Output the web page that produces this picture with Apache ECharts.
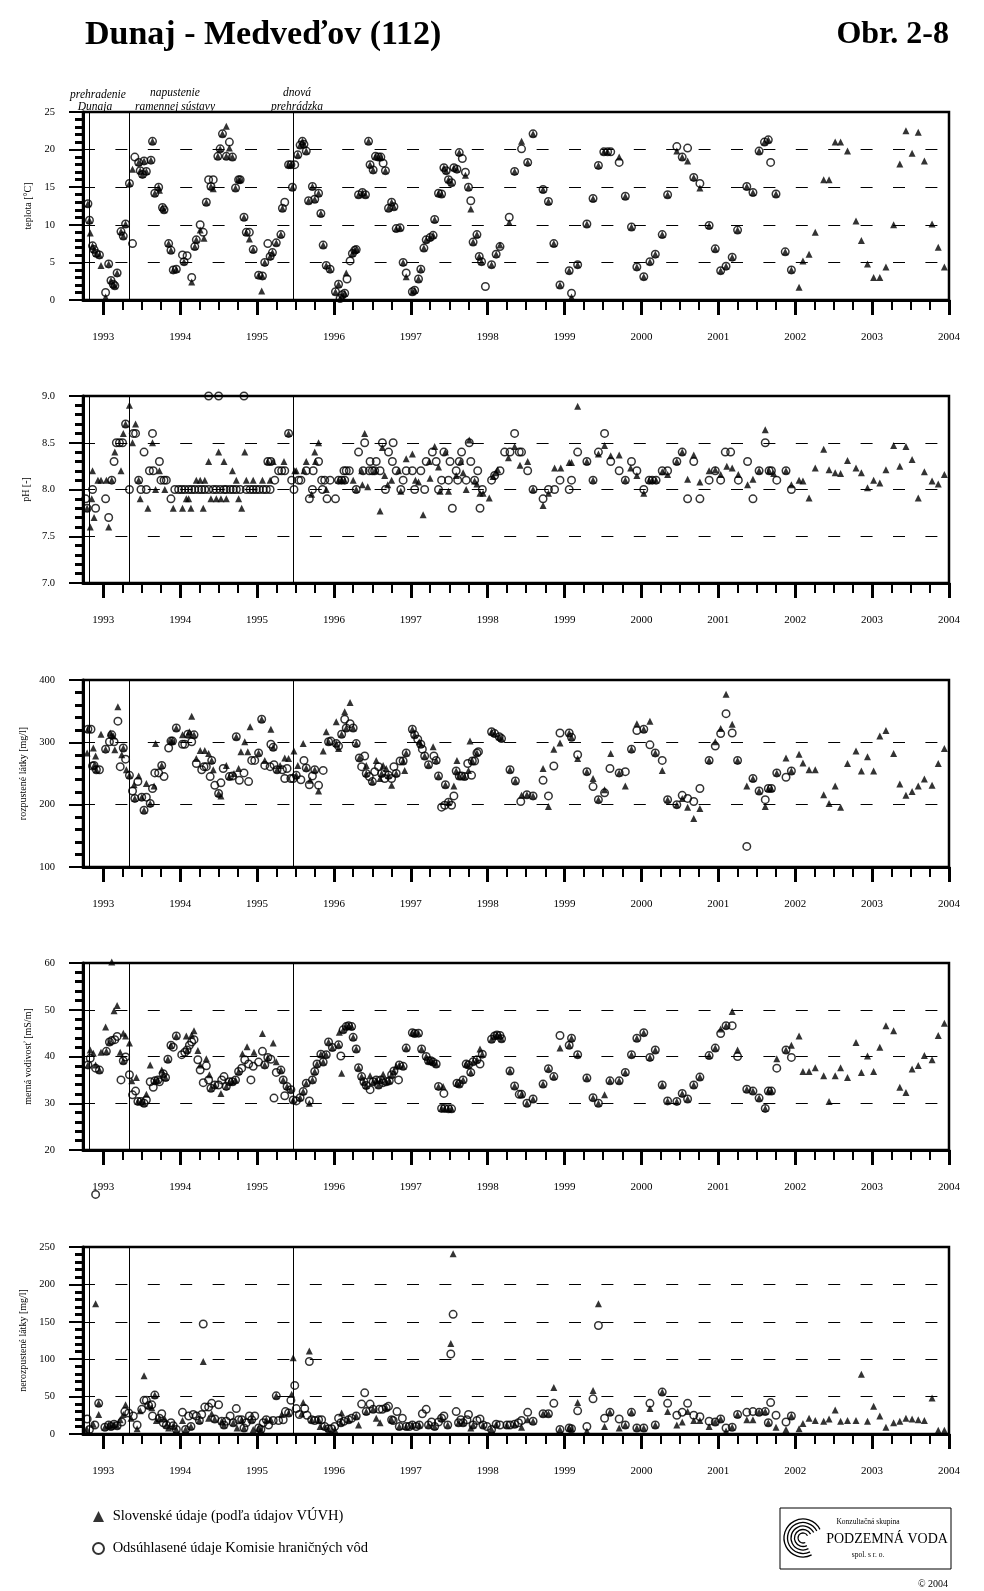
<!DOCTYPE html>
<html><head><meta charset="utf-8">
<script src="https://cdn.jsdelivr.net/npm/echarts@6/dist/echarts.min.js"></script>
<style>html,body{margin:0;padding:0;background:#fff}#c{width:984px;height:1591px}</style>
</head><body><div id="c"></div>
<script>
const FONT = '"Liberation Serif", "Times New Roman", serif';
const SK_NAME = 'Slovenské údaje (podľa údajov VÚVH)';
const KHV_NAME = 'Odsúhlasené údaje Komisie hraničných vôd';
const TITLE = 'Dunaj - Medveďov (112)';
const FIG = 'Obr. 2-8';

const yearTicks = [1993,1994,1995,1996,1997,1998,1999,2000,2001,2002,2003,2004];
const eventDates = [1992.818, 1993.338, 1995.47];

// Slovak-only monthly samples 2002-2003 (shared dates)
const lateDates = [2002.05,2002.10,2002.18,2002.26,2002.37,2002.44,2002.52,2002.59,2002.68,2002.79,2002.86,2002.94,2003.02,2003.10,2003.18,2003.28,2003.36,2003.44,2003.52,2003.60,2003.68,2003.78,2003.86,2003.94];

// ---------- teplota [°C] ----------
const tempBoth = [[1992.80,12.8],[1992.82,10.6],[1992.86,7.2],[1992.88,6.7],[1992.91,6.2],[1992.95,6.0],[1993.07,4.8],[1993.10,2.6],[1993.13,2.1],[1993.15,1.9],[1993.18,3.6],[1993.23,9.1],[1993.26,8.5],[1993.29,10.1],[1993.34,15.5],[1993.46,18.3],[1993.48,17.2],[1993.51,16.7],[1993.53,18.5],[1993.56,17.1],[1993.62,18.6],[1993.64,21.1],[1993.67,14.2],[1993.72,15.0],[1993.77,12.3],[1993.79,12.0],[1993.85,7.5],[1993.88,6.6],[1993.91,4.0],[1993.95,4.1],[1994.05,5.1],[1994.19,7.1],[1994.21,8.0],[1994.34,13.0],[1994.40,15.1],[1994.49,19.1],[1994.52,20.1],[1994.55,22.1],[1994.60,19.1],[1994.68,19.0],[1994.72,14.9],[1994.76,16.0],[1994.78,16.0],[1994.83,11.0],[1994.86,9.0],[1994.95,6.7],[1995.02,3.3],[1995.07,3.2],[1995.10,5.0],[1995.17,5.8],[1995.20,6.3],[1995.25,7.6],[1995.31,8.7],[1995.33,12.2],[1995.41,18.0],[1995.44,18.0],[1995.46,15.0],[1995.53,19.3],[1995.56,20.6],[1995.59,21.1],[1995.61,20.7],[1995.64,19.8],[1995.67,13.2],[1995.72,15.1],[1995.75,13.4],[1995.80,14.2],[1995.83,11.5],[1995.86,7.3],[1995.90,4.6],[1995.95,4.1],[1996.02,1.1],[1996.06,2.1],[1996.08,0.2],[1996.11,0.7],[1996.14,0.9],[1996.24,6.2],[1996.27,6.6],[1996.29,6.7],[1996.32,14.0],[1996.37,14.3],[1996.41,14.0],[1996.45,21.1],[1996.47,18.0],[1996.51,17.3],[1996.54,19.1],[1996.58,19.0],[1996.61,19.0],[1996.67,17.2],[1996.71,12.2],[1996.75,13.0],[1996.78,12.4],[1996.81,9.5],[1996.86,9.6],[1996.90,5.0],[1997.02,1.1],[1997.05,1.3],[1997.10,2.8],[1997.13,4.1],[1997.17,6.9],[1997.20,8.0],[1997.25,8.3],[1997.29,8.6],[1997.31,10.7],[1997.36,14.2],[1997.40,14.1],[1997.43,17.6],[1997.46,17.2],[1997.49,16.0],[1997.53,15.6],[1997.56,17.6],[1997.60,17.4],[1997.63,19.6],[1997.75,15.0],[1997.81,7.7],[1997.86,8.7],[1997.89,5.8],[1997.92,5.1],[1998.05,4.7],[1998.11,6.1],[1998.35,17.1],[1998.52,18.3],[1998.59,22.1],[1998.72,14.7],[1998.79,13.1],[1998.86,7.5],[1998.94,2.0],[1999.06,3.9],[1999.17,4.7],[1999.29,10.1],[1999.37,13.5],[1999.44,17.9],[1999.51,19.7],[1999.56,19.7],[1999.79,13.8],[1999.87,9.7],[1999.94,4.4],[2000.03,3.1],[2000.11,5.1],[2000.18,6.1],[2000.27,8.7],[2000.34,14.0],[2000.53,19.0],[2000.68,16.3],[2000.88,9.9],[2000.96,6.8],[2001.03,3.9],[2001.10,4.5],[2001.18,5.7],[2001.25,9.3],[2001.37,15.1],[2001.45,14.3],[2001.53,19.8],[2001.60,21.0],[2001.65,21.3],[2001.75,14.1],[2001.87,6.4],[2001.95,4.0]];
const tempSK = [[1992.83,8.9],[1992.97,4.6],[1993.03,0.4],[1993.38,17.4],[1993.73,14.6],[1994.15,2.4],[1994.26,9.3],[1994.31,8.2],[1994.43,14.8],[1994.60,23.1],[1994.64,20.2],[1994.90,8.1],[1995.06,1.2],[1996.16,3.6],[1996.94,3.1],[1997.71,16.6],[1997.78,12.1],[1998.16,7.3],[1998.28,10.3],[1998.44,21.1],[1999.09,0.4],[1999.71,19.0],[2000.46,19.8],[2000.60,18.5],[2000.76,14.9]];
const tempKHV = [[1993.03,1.0],[1993.38,7.5],[1993.41,19.0],[1994.03,6.0],[1994.09,5.9],[1994.15,3.0],[1994.26,10.0],[1994.30,9.0],[1994.37,16.0],[1994.43,16.0],[1994.64,21.0],[1994.90,9.0],[1995.14,7.5],[1995.36,13.0],[1995.49,18.0],[1996.17,2.8],[1996.21,5.2],[1996.64,18.2],[1996.94,3.6],[1997.67,18.8],[1997.71,17.0],[1997.78,13.2],[1997.97,1.8],[1998.16,7.1],[1998.28,11.0],[1998.44,20.1],[1999.09,0.9],[1999.60,19.7],[1999.71,18.3],[2000.46,20.4],[2000.60,20.2],[2000.76,15.5],[2001.68,18.3]];
const tempLate = [1.7,5.2,6.1,9.0,16.0,16.0,21.0,21.0,19.8,10.5,7.9,4.8,3.0,3.0,4.4,10.0,18.1,22.5,19.5,22.3,18.5,10.1,7.0,4.4];

// ---------- pH [-] ----------
const phBoth = [];
const phKHV = [[1992.77,7.9],[1992.79,7.8],[1992.86,8.0],[1992.90,7.8],[1993.03,7.9],[1993.07,7.7],[1993.11,8.1],[1993.14,8.3],[1993.17,8.5],[1993.21,8.5],[1993.25,8.5],[1993.29,8.7],[1993.34,8.0],[1993.39,8.6],[1993.42,8.6],[1993.46,8.1],[1993.49,8.0],[1993.53,8.4],[1993.56,8.0],[1993.60,8.2],[1993.64,8.6],[1993.65,8.2],[1993.73,8.3],[1993.75,8.1],[1993.79,8.1],[1993.82,8.1],[1993.88,7.9],[1993.93,8.0],[1993.98,8.0],[1994.02,8.0],[1994.06,8.0],[1994.11,8.0],[1994.15,8.0],[1994.19,8.0],[1994.24,8.0],[1994.28,8.0],[1994.32,8.0],[1994.37,8.0],[1994.37,9.0],[1994.50,9.0],[1994.83,9.0],[1994.43,8.0],[1994.47,8.0],[1994.52,8.0],[1994.57,8.0],[1994.60,8.0],[1994.65,8.0],[1994.69,8.0],[1994.73,8.0],[1994.78,8.0],[1994.86,8.0],[1994.91,8.0],[1994.95,8.0],[1994.99,8.0],[1995.03,8.0],[1995.08,8.0],[1995.12,8.0],[1995.17,8.0],[1995.14,8.3],[1995.18,8.3],[1995.23,8.1],[1995.28,8.2],[1995.32,8.2],[1995.36,8.2],[1995.41,8.6],[1995.45,8.1],[1995.48,8.0],[1995.54,8.1],[1995.57,8.1],[1995.64,8.2],[1995.68,7.9],[1995.72,8.0],[1995.73,8.2],[1995.80,8.3],[1995.84,8.1],[1995.85,8.0],[1995.88,8.1],[1995.91,7.9],[1995.95,8.1],[1996.02,7.9],[1996.06,8.1],[1996.10,8.1],[1996.14,8.1],[1996.13,8.2],[1996.16,8.2],[1996.20,8.2],[1996.29,8.0],[1996.32,8.4],[1996.38,8.2],[1996.40,8.5],[1996.46,8.2],[1996.47,8.3],[1996.50,8.2],[1996.53,8.2],[1996.55,8.3],[1996.60,8.2],[1996.63,8.5],[1996.67,8.0],[1996.71,8.4],[1996.76,8.3],[1996.77,8.5],[1996.81,8.2],[1996.87,8.0],[1996.90,8.1],[1996.94,8.2],[1997.02,8.2],[1997.05,8.0],[1997.13,8.2],[1997.18,8.0],[1997.20,8.3],[1997.28,8.4],[1997.33,8.3],[1997.36,8.0],[1997.40,8.1],[1997.43,8.4],[1997.49,8.1],[1997.51,8.3],[1997.54,7.8],[1997.59,8.2],[1997.61,8.1],[1997.63,8.3],[1997.66,8.4],[1997.72,8.1],[1997.76,8.5],[1997.78,8.3],[1997.83,8.1],[1997.87,8.2],[1997.90,7.8],[1997.93,8.0],[1998.05,8.1],[1998.09,8.15],[1998.16,8.2],[1998.22,8.4],[1998.29,8.4],[1998.35,8.6],[1998.41,8.4],[1998.44,8.4],[1998.52,8.2],[1998.59,8.0],[1998.72,7.9],[1998.79,8.0],[1998.87,8.0],[1998.94,8.1],[1999.06,8.0],[1999.09,8.1],[1999.17,8.4],[1999.29,8.3],[1999.37,8.1],[1999.44,8.4],[1999.52,8.6],[1999.60,8.3],[1999.71,8.2],[1999.79,8.1],[1999.87,8.3],[1999.94,8.2],[2000.03,8.0],[2000.10,8.1],[2000.14,8.1],[2000.19,8.1],[2000.27,8.2],[2000.34,8.2],[2000.46,8.3],[2000.53,8.4],[2000.60,7.9],[2000.68,8.3],[2000.76,7.9],[2000.88,8.1],[2000.96,8.2],[2001.03,8.1],[2001.09,8.4],[2001.16,8.4],[2001.26,8.1],[2001.38,8.3],[2001.45,7.9],[2001.53,8.2],[2001.61,8.5],[2001.66,8.2],[2001.69,8.2],[2001.76,8.1],[2001.88,8.2],[2001.95,8.0]];
const phSK = [[1992.79,7.8],[1992.83,7.6],[1992.85,7.9],[1992.86,8.2],[1992.88,7.7],[1992.93,8.1],[1992.97,8.1],[1993.04,8.1],[1993.07,7.6],[1993.11,8.1],[1993.15,8.4],[1993.23,8.2],[1993.26,8.6],[1993.29,8.7],[1993.34,8.9],[1993.38,8.5],[1993.42,8.7],[1993.46,8.1],[1993.48,7.9],[1993.58,7.8],[1993.64,8.5],[1993.68,8.0],[1993.73,8.2],[1993.80,8.0],[1993.91,7.8],[1994.03,7.8],[1994.08,7.9],[1994.11,7.9],[1994.14,7.8],[1994.21,8.1],[1994.26,8.1],[1994.30,7.8],[1994.32,8.1],[1994.37,8.3],[1994.40,7.9],[1994.47,7.9],[1994.50,8.4],[1994.53,7.9],[1994.57,8.3],[1994.60,7.9],[1994.68,8.2],[1994.73,8.1],[1994.76,7.9],[1994.80,7.8],[1994.84,8.4],[1994.86,8.1],[1994.95,8.1],[1995.07,8.1],[1995.14,8.3],[1995.17,8.1],[1995.21,8.3],[1995.35,8.3],[1995.41,8.6],[1995.49,8.2],[1995.51,8.2],[1995.61,8.2],[1995.64,8.3],[1995.71,7.95],[1995.75,8.4],[1995.76,8.3],[1995.80,8.5],[1995.90,8.0],[1996.06,8.1],[1996.10,8.1],[1996.14,8.1],[1996.25,8.1],[1996.29,8.0],[1996.36,8.2],[1996.37,8.05],[1996.40,8.6],[1996.44,8.03],[1996.54,8.2],[1996.60,7.77],[1996.63,8.45],[1996.66,8.15],[1996.70,8.05],[1996.75,8.1],[1996.84,8.2],[1996.87,7.98],[1996.94,8.33],[1997.02,8.38],[1997.06,8.1],[1997.10,8.08],[1997.16,7.73],[1997.24,8.3],[1997.25,8.12],[1997.31,8.46],[1997.36,8.24],[1997.38,7.98],[1997.45,8.4],[1997.49,7.98],[1997.59,8.15],[1997.65,8.3],[1997.68,8.18],[1997.72,8.0],[1997.76,8.53],[1997.83,8.09],[1997.86,8.06],[1997.90,7.96],[1997.94,7.96],[1998.02,7.91],[1998.07,8.14],[1998.10,8.18],[1998.13,8.21],[1998.27,8.34],[1998.35,8.46],[1998.42,8.26],[1998.52,8.3],[1998.59,8.0],[1998.72,7.83],[1998.79,7.96],[1998.87,8.23],[1998.95,8.23],[1999.06,8.29],[1999.09,8.29],[1999.17,8.89],[1999.29,8.3],[1999.37,8.1],[1999.44,8.38],[1999.52,8.47],[1999.60,8.36],[1999.71,8.37],[1999.79,8.1],[1999.86,8.23],[1999.94,8.15],[2000.03,7.96],[2000.10,8.1],[2000.14,8.1],[2000.19,8.1],[2000.27,8.19],[2000.34,8.16],[2000.46,8.3],[2000.53,8.4],[2000.60,8.11],[2000.68,8.37],[2000.76,8.08],[2000.88,8.2],[2000.96,8.21],[2001.03,8.16],[2001.11,8.25],[2001.18,8.23],[2001.26,8.16],[2001.38,8.05],[2001.45,8.11],[2001.53,8.2],[2001.61,8.64],[2001.66,8.2],[2001.72,8.17],[2001.88,8.2],[2001.95,8.05]];
const phLate = [8.1,8.09,7.91,8.23,8.43,8.21,8.18,8.17,8.31,8.23,8.18,8.02,8.1,8.07,8.21,8.47,8.25,8.46,8.32,7.91,8.19,8.09,8.06,8.16];

// ---------- rozpustené látky [mg/l] ----------
const tdsBoth = [[1992.80,321],[1992.88,263],[1992.91,256],[1993.03,289],[1993.11,312],[1993.26,291],[1993.34,247],[1993.41,210],[1993.50,212],[1993.53,191],[1993.61,202],[1993.76,263],[1993.88,302],[1993.90,302],[1993.95,323],[1994.10,313],[1994.18,312],[1994.41,271],[1994.50,218],[1994.64,245],[1994.73,309],[1995.02,283],[1995.06,337],[1995.21,292],[1995.26,256],[1995.51,247],[1995.64,259],[1995.75,256],[1995.93,301],[1996.03,298],[1996.10,313],[1996.16,323],[1996.25,323],[1996.29,298],[1996.33,275],[1996.42,250],[1996.50,237],[1996.62,250],[1996.71,247],[1996.81,250],[1996.90,270],[1996.94,283],[1997.02,321],[1997.05,312],[1997.13,297],[1997.18,278],[1997.23,264],[1997.33,271],[1997.36,246],[1997.45,232],[1997.49,204],[1997.59,254],[1997.63,246],[1997.70,245],[1997.80,270],[1997.86,283],[1998.05,317],[1998.09,314],[1998.15,309],[1998.18,306],[1998.29,256],[1998.36,238],[1998.51,216],[1998.59,214],[1999.06,315],[1999.09,308],[1999.29,253],[1999.44,208],[1999.71,251],[1999.87,289],[2000.03,321],[2000.18,283],[2000.34,208],[2000.46,200],[2000.88,271],[2001.25,271],[2001.45,242],[2001.53,222],[2001.65,226],[2001.69,226],[2001.76,251],[2001.95,254]];
const tdsSK = [[1992.79,283],[1992.87,291],[1992.90,278],[1992.97,313],[1993.09,315],[1993.13,310],[1993.15,288],[1993.19,357],[1993.24,280],[1993.30,256],[1993.40,232],[1993.46,246],[1993.56,234],[1993.66,230],[1993.68,298],[1994.03,312],[1994.12,317],[1994.15,342],[1994.21,274],[1994.26,287],[1994.32,287],[1994.37,282],[1994.43,256],[1994.53,214],[1994.60,263],[1994.70,250],[1994.76,258],[1994.79,285],[1994.84,301],[1994.88,285],[1994.91,325],[1995.10,271],[1995.18,321],[1995.30,263],[1995.36,275],[1995.41,274],[1995.48,286],[1995.53,263],[1995.60,298],[1995.69,239],[1995.80,222],[1995.86,286],[1995.90,317],[1996.03,333],[1996.06,290],[1996.14,349],[1996.21,364],[1996.42,263],[1996.55,271],[1996.60,242],[1996.64,263],[1996.68,258],[1996.75,231],[1996.92,255],[1997.11,301],[1997.29,293],[1997.56,230],[1997.60,271],[1997.75,255],[1997.77,302],[1998.44,215],[1998.72,258],[1998.79,197],[1998.86,289],[1998.94,299],[1999.17,274],[1999.37,242],[1999.52,224],[1999.60,282],[1999.79,230],[1999.94,330],[2000.11,334],[2000.27,255],[2000.53,210],[2000.60,196],[2000.68,178],[2000.76,194],[2000.96,301],[2001.03,322],[2001.10,377],[2001.18,329],[2001.37,230],[2001.61,197],[2001.88,275]];
const tdsKHV = [[1992.84,321],[1992.86,262],[1992.95,256],[1993.08,301],[1993.14,301],[1993.19,334],[1993.22,261],[1993.29,273],[1993.38,222],[1993.45,237],[1993.56,212],[1993.64,226],[1993.67,251],[1993.72,251],[1993.79,245],[1993.85,291],[1994.03,297],[1994.06,297],[1994.15,301],[1994.21,266],[1994.28,256],[1994.31,261],[1994.34,261],[1994.39,245],[1994.45,231],[1994.53,235],[1994.56,258],[1994.68,246],[1994.77,239],[1994.83,251],[1994.89,237],[1994.93,271],[1994.97,271],[1995.10,263],[1995.17,261],[1995.18,297],[1995.22,264],[1995.33,256],[1995.36,242],[1995.39,258],[1995.44,242],[1995.47,242],[1995.57,240],[1995.61,271],[1995.68,232],[1995.72,246],[1995.80,231],[1995.86,255],[1995.96,302],[1996.06,294],[1996.14,337],[1996.21,330],[1996.36,261],[1996.40,278],[1996.46,245],[1996.53,253],[1996.58,261],[1996.66,242],[1996.75,242],[1996.78,261],[1996.86,270],[1997.09,305],[1997.15,289],[1997.30,278],[1997.40,196],[1997.44,199],[1997.53,199],[1997.56,214],[1997.66,246],[1997.74,266],[1997.79,247],[1997.83,270],[1997.88,285],[1998.43,205],[1998.72,239],[1998.79,214],[1998.86,262],[1998.94,315],[1999.17,280],[1999.37,229],[1999.52,219],[1999.59,258],[1999.79,253],[1999.94,319],[2000.11,296],[2000.27,271],[2000.53,215],[2000.60,210],[2000.68,205],[2000.76,226],[2000.96,294],[2001.03,314],[2001.10,346],[2001.18,315],[2001.37,133],[2001.61,208],[2001.88,244]];
const tdsLate = [281,267,256,256,216,202,230,196,266,286,254,277,254,310,319,282,233,215,221,230,241,231,266,290];

// ---------- merná vodivosť [mS/m] ----------
const condBoth = [[1992.80,38.2],[1992.95,37.1],[1993.04,41.1],[1993.08,43.1],[1993.26,39.1],[1993.45,30.4],[1993.49,30.4],[1993.53,30.0],[1993.67,34.8],[1993.71,35.0],[1993.78,36.3],[1993.81,35.5],[1993.84,39.4],[1993.88,42.4],[1993.95,44.4],[1994.09,41.4],[1994.40,33.2],[1994.45,33.9],[1994.60,33.6],[1994.64,34.6],[1994.68,34.6],[1994.72,35.0],[1994.76,36.8],[1995.10,38.2],[1995.14,39.8],[1995.31,37.1],[1995.34,35.0],[1995.39,33.6],[1995.44,32.9],[1995.47,30.7],[1995.56,31.2],[1995.60,32.5],[1995.64,34.3],[1995.72,35.0],[1995.75,36.8],[1995.78,38.4],[1995.83,40.5],[1995.86,38.8],[1995.90,40.4],[1995.93,43.1],[1995.98,41.9],[1996.06,42.5],[1996.12,45.7],[1996.16,46.4],[1996.19,46.6],[1996.23,46.4],[1996.25,44.1],[1996.29,41.6],[1996.32,37.6],[1996.36,35.7],[1996.39,34.6],[1996.42,33.8],[1996.51,34.6],[1996.55,35.0],[1996.58,33.9],[1996.61,35.0],[1996.68,34.6],[1996.72,34.8],[1996.75,36.1],[1996.78,36.9],[1996.85,38.2],[1996.90,37.9],[1996.94,41.8],[1997.02,45.1],[1997.05,44.9],[1997.10,45.0],[1997.14,41.6],[1997.20,40.0],[1997.23,39.1],[1997.26,39.1],[1997.29,38.8],[1997.33,38.4],[1997.36,33.6],[1997.40,28.9],[1997.44,28.9],[1997.49,28.8],[1997.53,28.8],[1997.60,34.3],[1997.63,34.1],[1997.68,35.0],[1997.72,38.4],[1997.75,38.2],[1997.78,36.6],[1997.81,38.9],[1997.86,39.3],[1997.93,40.5],[1998.05,43.7],[1998.09,44.4],[1998.12,44.6],[1998.16,44.5],[1998.18,43.8],[1998.29,36.9],[1998.35,33.7],[1998.44,31.9],[1998.51,30.0],[1998.59,30.9],[1998.72,34.1],[1998.79,37.4],[1998.86,35.7],[1999.06,42.4],[1999.09,43.9],[1999.17,40.4],[1999.29,35.4],[1999.37,31.2],[1999.44,30.0],[1999.59,34.8],[1999.71,34.8],[1999.79,36.6],[1999.87,40.4],[1999.94,43.9],[2000.03,45.1],[2000.11,39.8],[2000.18,41.4],[2000.27,33.9],[2000.34,30.5],[2000.46,30.4],[2000.53,32.1],[2000.60,30.9],[2000.68,33.9],[2000.76,35.6],[2000.88,40.2],[2000.96,41.8],[2001.10,46.6],[2001.37,33.0],[2001.45,32.6],[2001.53,31.1],[2001.61,28.9],[2001.65,32.6],[2001.69,32.6],[2001.88,41.4]];
const condSK = [[1992.83,41.4],[1992.87,40.7],[1992.90,38.2],[1992.97,40.9],[1993.03,46.3],[1993.11,60.2],[1993.14,49.8],[1993.18,50.9],[1993.22,40.9],[1993.26,45.0],[1993.29,44.4],[1993.34,42.9],[1993.37,34.8],[1993.43,35.5],[1993.56,31.9],[1993.61,38.2],[1993.76,37.1],[1994.08,44.4],[1994.15,44.6],[1994.18,45.5],[1994.23,41.3],[1994.26,38.2],[1994.34,39.5],[1994.38,36.1],[1994.53,32.1],[1994.81,40.6],[1994.87,42.1],[1994.96,40.9],[1995.07,44.9],[1995.21,42.9],[1995.25,38.9],[1995.68,30.0],[1996.07,45.2],[1996.10,36.4],[1996.47,35.9],[1996.64,36.2],[1996.81,37.9],[1997.42,33.6],[1997.90,41.6],[1998.94,41.8],[1999.52,31.8],[2001.03,45.9],[2001.18,49.6],[2001.25,41.4],[2001.76,39.5],[2001.95,42.4]];
const condKHV = [[1992.83,39.6],[1992.90,37.5],[1992.90,10.5],[1993.11,43.4],[1993.15,43.6],[1993.18,44.3],[1993.23,35.0],[1993.29,39.9],[1993.34,36.1],[1993.38,31.8],[1993.42,32.6],[1993.56,30.7],[1993.61,34.6],[1993.65,33.4],[1993.73,34.6],[1993.91,42.0],[1994.02,40.4],[1994.06,40.9],[1994.12,42.4],[1994.15,43.1],[1994.18,43.6],[1994.23,39.3],[1994.26,37.1],[1994.30,34.4],[1994.34,38.0],[1994.37,35.0],[1994.50,33.9],[1994.54,35.0],[1994.57,35.7],[1994.80,37.5],[1994.84,39.3],[1994.89,38.4],[1994.92,35.0],[1994.95,37.9],[1995.02,38.8],[1995.07,41.1],[1995.18,39.4],[1995.22,31.1],[1995.25,36.6],[1995.36,31.6],[1995.51,30.5],[1995.68,30.5],[1996.09,40.1],[1996.47,32.9],[1996.64,34.4],[1996.84,35.0],[1997.43,32.1],[1997.90,38.4],[1998.41,31.9],[1998.94,44.5],[2001.03,44.9],[2001.18,46.6],[2001.25,40.0],[2001.76,37.5],[2001.95,39.8]];
const condLate = [44.4,36.8,36.8,37.6,35.9,30.4,35.9,37.6,35.5,43.0,36.6,40.1,36.8,42.0,46.6,45.5,33.4,32.3,37.3,38.1,40.2,39.3,44.5,47.1];

// ---------- nerozpustené látky [mg/l] ----------
const tssBoth = [[1992.94,41],[1993.02,9],[1993.07,12],[1993.10,10],[1993.14,13],[1993.18,11],[1993.59,38],[1993.67,52],[1993.73,21],[1993.82,12],[1993.91,11],[1993.95,6],[1994.07,6],[1994.14,10],[1994.25,18],[1994.45,20],[1994.54,17],[1994.57,12],[1994.69,15],[1994.80,19],[1994.83,8],[1994.93,19],[1995.02,8],[1995.05,6],[1995.12,19],[1995.25,51],[1995.41,28],[1995.71,19],[1995.80,19],[1995.88,10],[1995.93,7],[1996.09,15],[1996.19,19],[1996.29,24],[1996.42,30],[1996.51,33],[1996.68,35],[1996.75,19],[1996.85,10],[1996.94,10],[1997.02,12],[1997.11,12],[1997.23,12],[1997.31,10],[1997.40,21],[1997.48,12],[1997.62,15],[1997.68,15],[1997.81,12],[1997.94,12],[1998.05,6],[1998.11,13],[1998.25,12],[1998.35,13],[1998.59,17],[1998.72,27],[1998.79,27],[1998.94,6],[1999.06,8],[1999.09,7],[1999.59,29],[1999.79,12],[1999.87,29],[1999.94,8],[2000.03,8],[2000.18,12],[2000.27,56],[2000.96,16],[2001.03,20],[2001.18,9],[2001.25,26],[2001.53,29],[2001.61,30],[2001.65,15],[2001.95,24]];
const tssSK = [[1992.79,6],[1992.87,13],[1992.90,174],[1992.94,26],[1993.22,19],[1993.26,26],[1993.29,39],[1993.36,21],[1993.44,7],[1993.48,31],[1993.53,78],[1993.63,35],[1993.69,18],[1993.80,20],[1993.85,8],[1994.03,18],[1994.30,97],[1994.37,21],[1994.41,27],[1994.74,8],[1994.95,6],[1995.18,19],[1995.32,26],[1995.45,53],[1995.47,102],[1995.58,27],[1995.60,42],[1995.68,111],[1995.82,10],[1996.01,6],[1996.10,28],[1996.32,12],[1996.55,21],[1996.60,15],[1997.52,121],[1997.55,241],[1997.78,8],[1998.44,9],[1998.52,19],[1998.86,62],[1999.17,42],[1999.29,4],[1999.37,58],[1999.44,174],[1999.52,10],[1999.71,8],[2000.11,34],[2000.34,30],[2000.46,12],[2000.53,16],[2000.60,30],[2000.68,18],[2000.76,18],[2000.88,10],[2001.10,4],[2001.37,19],[2001.45,19],[2001.75,9],[2001.88,6]];
const tssKHV = [[1992.79,20],[1992.82,6],[1992.89,12],[1993.24,16],[1993.28,30],[1993.33,28],[1993.39,24],[1993.44,12],[1993.50,33],[1993.53,45],[1993.56,45],[1993.63,39],[1993.64,24],[1993.76,27],[1993.78,15],[1993.88,15],[1994.03,29],[1994.11,24],[1994.17,26],[1994.21,24],[1994.28,26],[1994.30,147],[1994.32,36],[1994.37,36],[1994.41,41],[1994.50,39],[1994.60,17],[1994.65,24],[1994.73,34],[1994.76,19],[1994.86,15],[1994.90,24],[1994.97,24],[1995.08,15],[1995.15,12],[1995.21,18],[1995.28,18],[1995.34,19],[1995.37,30],[1995.44,45],[1995.49,65],[1995.51,34],[1995.55,26],[1995.62,34],[1995.65,25],[1995.68,97],[1995.75,18],[1995.84,19],[1995.97,7],[1996.01,10],[1996.06,21],[1996.13,17],[1996.23,21],[1996.36,40],[1996.40,55],[1996.47,40],[1996.59,33],[1996.63,33],[1996.71,37],[1996.77,18],[1996.82,30],[1996.89,21],[1996.98,10],[1997.07,10],[1997.15,27],[1997.20,33],[1997.27,16],[1997.36,16],[1997.43,24],[1997.52,107],[1997.55,160],[1997.59,30],[1997.65,19],[1997.73,19],[1997.75,26],[1997.86,18],[1997.90,20],[1997.99,10],[1998.16,12],[1998.29,12],[1998.40,15],[1998.44,18],[1998.52,29],[1998.86,41],[1999.17,31],[1999.29,10],[1999.37,47],[1999.44,145],[1999.52,21],[1999.71,20],[2000.11,41],[2000.34,41],[2000.46,25],[2000.53,29],[2000.60,41],[2000.68,25],[2000.76,23],[2000.88,17],[2001.10,8],[2001.37,29],[2001.45,30],[2001.68,42],[2001.75,25],[2001.88,16]];
const tssLate = [7,14,21,18,17,20,32,17,18,18,80,17,37,24,9,15,17,21,20,19,18,48,5,5];

// ---------- panel definitions ----------
const panels = [
  {name:'teplota [°C]', min:0, max:25, interval:5, dec:0, both:tempBoth, sk:tempSK, khv:tempKHV, late:tempLate},
  {name:'pH [-]', min:7, max:9, interval:0.5, dec:1, both:phBoth, sk:phSK, khv:phKHV, late:phLate},
  {name:'rozpustené látky [mg/l]', min:100, max:400, interval:100, dec:0, both:tdsBoth, sk:tdsSK, khv:tdsKHV, late:tdsLate},
  {name:'merná vodivosť [mS/m]', min:20, max:60, interval:10, dec:0, both:condBoth, sk:condSK, khv:condKHV, late:condLate},
  {name:'nerozpustené látky [mg/l]', min:0, max:250, interval:50, dec:0, both:tssBoth, sk:tssSK, khv:tssKHV, late:tssLate}
];

// layout
const gridTops = [112, 396, 680, 963, 1247];
const gridHeights = [188, 187, 187, 187, 187];
const X_MIN = 1992.736, X_MAX = 2004;
const quarterTicks = [];
for (let y = 1993; y < 2004; y++) { quarterTicks.push(y + 0.25, y + 0.5, y + 0.75); }

const grids = [], xAxes = [], yAxes = [], series = [];
panels.forEach((p, i) => {
  grids.push({left:83, right:35, top:gridTops[i], height:gridHeights[i], show:true, borderColor:'#000', borderWidth:2.5, backgroundColor:'transparent'});
  xAxes.push({
    type:'value', gridIndex:i, min:X_MIN, max:X_MAX, position:'bottom',
    axisLine:{show:true, onZero:false, lineStyle:{color:'#000', width:3}},
    axisTick:{show:true, customValues:yearTicks, length:15, lineStyle:{color:'#000', width:3}},
    axisLabel:{show:true, customValues:yearTicks, margin:32, color:'#000', fontFamily:FONT, fontSize:11, formatter:v=>String(Math.round(v))},
    splitLine:{show:false}
  });
  xAxes.push({
    type:'value', gridIndex:i, min:X_MIN, max:X_MAX, position:'bottom',
    axisLine:{show:false, onZero:false},
    axisTick:{show:true, customValues:quarterTicks, length:10, lineStyle:{color:'#000', width:2}},
    axisLabel:{show:false},
    splitLine:{show:false}
  });
  yAxes.push({
    type:'value', gridIndex:i, min:p.min, max:p.max, interval:p.interval,
    name:p.name, nameLocation:'middle', nameGap:40,
    nameTextStyle:{color:'#000', fontFamily:FONT, fontSize:10},
    axisLine:{show:true, lineStyle:{color:'#000', width:3}},
    axisTick:{show:true, length:14, lineStyle:{color:'#000', width:2}},
    minorTick:{show:true, splitNumber:5, length:8, lineStyle:{color:'#000', width:3}},
    axisLabel:{margin:28, color:'#000', fontFamily:FONT, fontSize:10.5, formatter:v=>v.toFixed(p.dec)},
    splitLine:{show:true, lineStyle:{color:'#000', width:1, type:[12,20.4]}}
  });
  const lateSeries = lateDates.map((d, k) => [d, p.late[k]]);
  series.push({
    name:KHV_NAME, type:'scatter', xAxisIndex:2*i, yAxisIndex:i, clip:false, z:3,
    symbol:'circle', symbolSize:7.5,
    itemStyle:{color:'rgba(0,0,0,0)', borderColor:'#000', borderWidth:1.5},
    data:p.both.concat(p.khv),
    markLine:{
      silent:true, symbol:['none','none'], label:{show:false},
      lineStyle:{color:'#000', width:1, type:'solid'},
      emphasis:{disabled:true},
      data:eventDates.map(d => ({xAxis:d}))
    }
  });
  series.push({
    name:SK_NAME, type:'scatter', xAxisIndex:2*i, yAxisIndex:i, clip:false, z:4,
    symbol:'triangle', symbolSize:7,
    itemStyle:{color:'#000'},
    data:p.both.concat(p.sk, lateSeries)
  });
});

const it = (text, x, y, size) => ({type:'text', x, y, silent:true,
  style:{text, fill:'#000', font:'italic ' + size + 'px ' + FONT, align:'center', verticalAlign:'middle', textAlign:'center', textVerticalAlign:'middle'}});
const tx = (text, x, y, font, align) => ({type:'text', x, y, silent:true,
  style:{text, fill:'#000', font, align:align||'left', verticalAlign:'middle', textAlign:align||'left', textVerticalAlign:'middle'}});

// logo spiral approximation
const logoArcs = [];
[19, 15.5, 12, 8.5, 5].forEach((r) => {
  logoArcs.push({type:'arc', silent:true, shape:{cx:803, cy:1538, r:r, startAngle:Math.PI*0.35, endAngle:Math.PI*1.85, clockwise:true},
    style:{stroke:'#000', lineWidth:1.3, fill:null}});
});

const option = {
  animation:false,
  backgroundColor:'#fff',
  grid:grids, xAxis:xAxes, yAxis:yAxes, series:series,
  legend:{
    orient:'vertical', left:87, top:1504, itemGap:17, itemWidth:11, itemHeight:11,
    selectedMode:false,
    textStyle:{color:'#000', fontFamily:FONT, fontSize:14.5},
    formatter:n => ' ' + n,
    data:[{name:SK_NAME, icon:'triangle'}, {name:KHV_NAME, icon:'circle'}]
  },
  graphic:[
    tx(TITLE, 85, 35, 'bold 34px ' + FONT, 'left'),
    tx(FIG, 949, 35, 'bold 32px ' + FONT, 'right'),
    it('prehradenie', 98, 95, 11.5), it('Dunaja', 95, 107, 11.5),
    it('napustenie', 175, 93, 11.5), it('ramennej sústavy', 175, 107, 11.5),
    it('dnová', 297, 93, 11.5), it('prehrádzka', 297, 107, 11.5),
    {type:'rect', silent:true, shape:{x:780, y:1508, width:171, height:61}, style:{stroke:'#000', lineWidth:1, fill:null}},
    ...logoArcs,
    tx('Konzultačná skupina', 868, 1522, '7.5px ' + FONT, 'center'),
    tx('PODZEMNÁ VODA', 887, 1539, '14px ' + FONT, 'center'),
    tx('spol. s r. o.', 868, 1555, '7.5px ' + FONT, 'center'),
    tx('© 2004', 948, 1584, '10px ' + FONT, 'right')
  ]
};

const chart = echarts.init(document.getElementById('c'), null, {renderer:'canvas'});
chart.setOption(option);
</script>
</body></html>
